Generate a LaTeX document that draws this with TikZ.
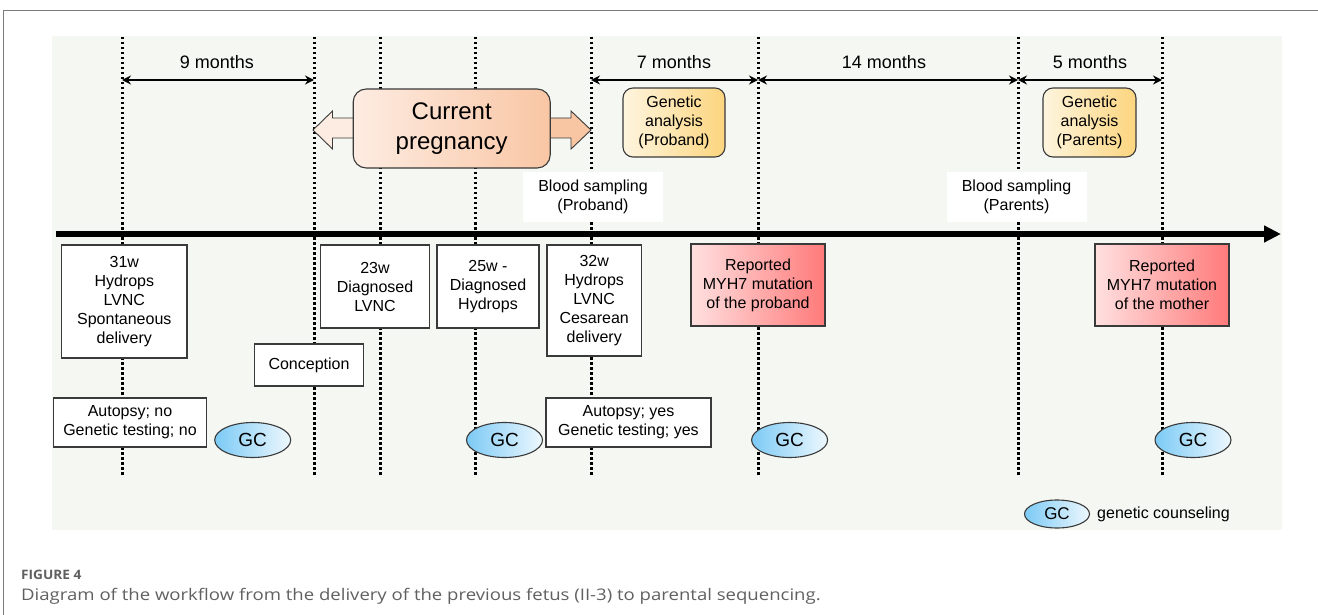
\documentclass[tikz,border=0pt]{standalone}
\usepackage{fontspec}
\setmainfont{Liberation Sans}
\newfontfamily\capfont{Open Sans}
\usetikzlibrary{arrows.meta,shapes.geometric,calc}
\definecolor{panelbg}{HTML}{F5F7F3}
\definecolor{framec}{HTML}{7A7A7A}
\definecolor{edgec}{HTML}{3A3A3A}
\definecolor{cpL}{HTML}{FDECE2}
\definecolor{cpR}{HTML}{F9C6A4}
\definecolor{gaL}{HTML}{FEF5DE}
\definecolor{gaR}{HTML}{FCD57E}
\definecolor{rdL}{HTML}{FFE0E0}
\definecolor{rdR}{HTML}{FF7A7A}
\definecolor{gcL}{HTML}{7CCAF5}
\definecolor{gcR}{HTML}{EEF8FE}
\definecolor{capc}{HTML}{606060}
\tikzset{
  vdot/.style={line width=3pt, dash pattern=on 2.5pt off 2.5pt},
  dur/.style={line width=2.4pt, {Stealth[length=9pt,width=9pt]}-{Stealth[length=9pt,width=9pt]}},
  durlbl/.style={font=\fontsize{18}{20}\selectfont, inner sep=0pt},
  evbox/.style={draw=edgec, line width=1.2pt, fill=white, align=center, inner sep=0pt,
    font=\fontsize{16}{19}\selectfont},
  wbox/.style={fill=white, align=center, inner sep=0pt, font=\fontsize{16}{19}\selectfont,
    minimum width=140pt, minimum height=50pt},
  gabox/.style={draw=edgec, line width=1.1pt, rounded corners=10pt, left color=gaL, right color=gaR,
    align=center, inner sep=0pt, minimum width=102pt, minimum height=69pt,
    font=\fontsize{16}{19}\selectfont},
  rdbox/.style={draw=edgec, line width=1.1pt, left color=rdL, right color=rdR,
    align=center, inner sep=0pt, minimum width=134pt, minimum height=82pt,
    font=\fontsize{16}{19}\selectfont},
  gc/.style={ellipse, draw=edgec, line width=1.1pt, left color=gcL, right color=gcR,
    minimum width=76pt, minimum height=35pt, inner sep=0pt, font=\fontsize{19}{20}\selectfont},
  blockarr/.style={draw=edgec, line width=0.9pt}
}
\begin{document}
\begin{tikzpicture}[x=1pt,y=-1pt]
\useasboundingbox (0,0) rectangle (1318,615);
% frame and panel
\draw[framec, line width=1pt] (3.5,615) -- (3.5,11) -- (1318,11);
\fill[panelbg] (52,36) rectangle (1282,530);

% vertical dotted lines
\foreach \i/\x in {1/122,2/314,3/380,4/475,5/591,6/758,7/1018,8/1162}{
  \coordinate (t\i) at (\x,37);
  \coordinate (b\i) at (\x,475);
  \coordinate (d\i) at (\x,80);
}
\foreach \i in {1,...,8}{ \draw[vdot] (t\i) -- (b\i); }

% timeline
\coordinate (tlA) at (56,234);
\coordinate (tlB) at (1281,234);
\draw[line width=5.5pt, -{Triangle[length=17pt,width=16pt]}] (tlA) -- (tlB);

% durations
\draw[dur] (d1) -- (d2);
\draw[dur] (d5) -- (d6);
\draw[dur] (d6) -- (d7);
\draw[dur] (d7) -- (d8);
\node[durlbl] (m9) at (217,62) {9 months};
\node[durlbl] (m7) at (674,62) {7 months};
\node[durlbl] (m14) at (884,62) {14 months};
\node[durlbl] (m5) at (1090,62) {5 months};

% current pregnancy block arrows
\draw[blockarr, fill=cpL] (360,118) -- (332.5,118) -- (332.5,111) -- (313,130) -- (332.5,149) -- (332.5,138) -- (360,138) -- cycle;
\draw[blockarr, fill=cpR] (545,118) -- (571,118) -- (571,111) -- (591,130) -- (571,149) -- (571,138) -- (545,138) -- cycle;
\node[draw=edgec, line width=1.1pt, rounded corners=13pt, left color=cpL, right color=cpR,
  minimum width=197pt, minimum height=79pt, inner sep=0pt, align=center,
  font=\fontsize{24}{30}\selectfont] (cp) at (451.7,128.5) {Current\\pregnancy};

% genetic analysis
\node[gabox] (gaP) at (674,122.5) {Genetic\\analysis\\(Proband)};
\node[gabox, minimum width=93pt] (gaR) at (1089.5,122.5) {Genetic\\analysis\\(Parents)};

% blood sampling
\node[wbox] (bsP) at (593,197) {Blood sampling\\(Proband)};
\node[wbox] (bsR) at (1016.5,197) {Blood sampling\\(Parents)};

% event boxes
\node[evbox, minimum width=125.5pt, minimum height=113pt] (e31) at (124.3,301.5)
  {31w\\Hydrops\\LVNC\\Spontaneous\\delivery};
\node[evbox, minimum width=108.5pt, minimum height=42pt] (con) at (309,365) {Conception};
\node[evbox, minimum width=108.5pt, minimum height=83pt] (e23) at (375,286.5) {23w\\Diagnosed\\LVNC};
\node[evbox, minimum width=102pt, minimum height=83pt] (e25) at (488,286.5) {25w -\\Diagnosed\\Hydrops};
\node[evbox, minimum width=94.5pt, minimum height=111pt] (e32) at (594.2,300.5)
  {32w\\Hydrops\\LVNC\\Cesarean\\delivery};
\node[evbox, minimum width=153pt, minimum height=49pt] (aN) at (130,422.5) {Autopsy; no\\Genetic testing; no};
\node[evbox, minimum width=165pt, minimum height=49pt] (aY) at (628.5,422.5) {Autopsy; yes\\Genetic testing; yes};

% reported
\node[rdbox] (rP) at (758,285) {Reported\\MYH7  mutation\\of the proband};
\node[rdbox] (rM) at (1162,285) {Reported\\MYH7  mutation\\of the mother};

% GC
\node[gc] (gc1) at (252.7,440) {GC};
\node[gc] (gc2) at (504.5,440) {GC};
\node[gc] (gc3) at (789.6,440) {GC};
\node[gc] (gc4) at (1193,440) {GC};

% legend
\node[gc, minimum width=65pt, minimum height=28pt, font=\fontsize{17}{18}\selectfont] (gcL) at (1057,514) {GC};
\node[anchor=west, inner sep=0pt, font=\fontsize{16}{18}\selectfont] (gcT) at (1097,514) {genetic counseling};

% caption
\node[anchor=west, inner sep=0pt, text=capc, font=\capfont\bfseries\fontsize{13}{14}\selectfont] (fig) at (21,574.5) {\scalebox{1.05}[1]{FIGURE 4}};
\node[anchor=base west, inner sep=0pt, text=capc, font=\capfont\fontsize{16}{18}\selectfont] (cap) at (21,600)
  {\scalebox{1.16}[1]{Diagram of the workflow from the delivery of the previous fetus (II-3) to parental sequencing.}};
\end{tikzpicture}
\end{document}
